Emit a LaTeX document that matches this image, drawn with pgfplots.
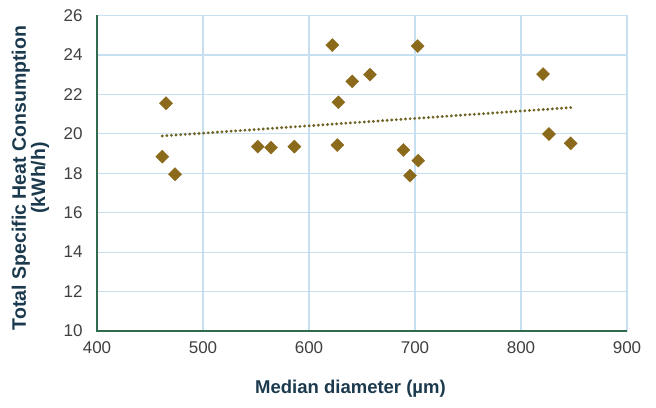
\documentclass[border=0pt]{standalone}
\usepackage{pgfplots}
\pgfplotsset{compat=1.18}
\usepackage{fontspec}
\setmainfont{Liberation Sans}
\definecolor{mk}{HTML}{8C6A1C}
\definecolor{trc}{HTML}{6F6424}
\definecolor{gridc}{HTML}{C6E0F2}
\definecolor{axc}{HTML}{2F6B4C}
\definecolor{tickc}{HTML}{404040}
\definecolor{labc}{HTML}{1C3A4E}
\begin{document}
\begin{tikzpicture}[x=1pt,y=1pt]
\begin{axis}[
 at={(97pt,76pt)}, anchor=south west,
 scale only axis, width=530pt, height=315.5pt,
 xmin=400,xmax=900,ymin=10,ymax=26,
 xtick={400,500,...,900}, ytick={10,12,...,26},
 grid=major, major grid style={gridc, line width=1.2pt},
 axis line style={gridc, line width=1.2pt},
 tick style={draw=none},
 ticklabel style={font=\fontsize{17}{20}\selectfont, text=tickc},
 /pgf/number format/assume math mode=true,
 xticklabel style={yshift=-7pt},
 yticklabel style={xshift=-11pt},
 clip=false,
]
\addplot[trc, dash pattern=on 0pt off 4.6pt, line cap=round, line width=3.2pt] coordinates {(461.6,19.89)(846.9,21.33)};
\addplot[only marks, mark=square*, mark size=4.6pt, mk, mark options={fill=mk, draw=mk, rotate=45}] coordinates {
(465.1,21.55)(461.6,18.84)(473.6,17.95)(551.6,19.35)(564.2,19.30)(586.2,19.35)
(622.0,24.50)(627.7,21.60)(626.7,19.43)(640.8,22.66)(657.5,23.00)
(702.5,24.45)(689.0,19.18)(703.1,18.64)(695.3,17.88)
(820.8,23.03)(826.4,19.99)(846.9,19.52)};
\draw[axc, line width=1.5pt] (rel axis cs:0,1) -- (rel axis cs:0,0) -- (rel axis cs:1,0);
\end{axis}
\node[font=\bfseries\fontsize{18.5}{20}\selectfont, text=labc] at (350.5pt,18pt) {Median diameter (µm)};
\node[rotate=90, align=center, font=\bfseries\fontsize{19.5}{17}\selectfont, text=labc] at (30.5pt,229pt) {Total Specific Heat Consumption\\(kWh/h)};
\pgfresetboundingbox
\path[use as bounding box] (0,0) rectangle (656pt,407pt);
\end{tikzpicture}
\end{document}
